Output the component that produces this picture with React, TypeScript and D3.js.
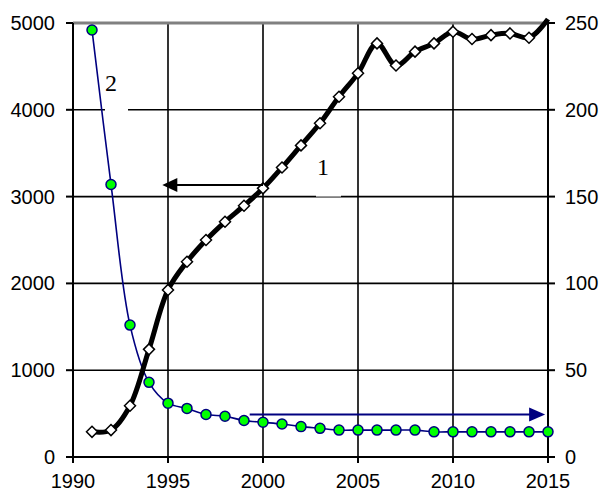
import React, { useEffect, useRef } from 'react';
import * as d3 from 'd3';

const years = [
  1991, 1992, 1993, 1994, 1995, 1996, 1997, 1998, 1999, 2000, 2001, 2002, 2003,
  2004, 2005, 2006, 2007, 2008, 2009, 2010, 2011, 2012, 2013, 2014, 2015,
];
// curve 1, left axis
const series1 = [
  290, 310, 590, 1240, 1925, 2250, 2500, 2710, 2895, 3095, 3335, 3590, 3845,
  4150, 4420, 4765, 4510, 4670, 4765, 4900, 4815, 4860, 4880, 4830, 5045,
];
// curve 2, right axis
const series2 = [
  246, 157, 76, 43, 31, 28, 24.5, 23.5, 21, 20, 19, 17.5, 16.5, 15.5, 15.5,
  15.5, 15.5, 15.5, 14.5, 14.5, 14.5, 14.5, 14.5, 14.5, 14.5,
];
const xTicks = [1990, 1995, 2000, 2005, 2010, 2015];
const leftTicks = [0, 1000, 2000, 3000, 4000, 5000];
const rightTicks = [0, 50, 100, 150, 200, 250];

const App: React.FC = () => {
  const chartRef = useRef<SVGSVGElement>(null);

  const renderChart = () => {
    const svg = d3.select(chartRef.current);
    svg.selectAll('*').remove();

    const left = 73;
    const right = 548;
    const top = 23;
    const bottom = 457;

    const x = d3.scaleLinear().domain([1990, 2015]).range([left, right]);
    const yL = d3.scaleLinear().domain([0, 5000]).range([bottom, top]);
    const yR = d3.scaleLinear().domain([0, 250]).range([bottom, top]);

    const font = "'Liberation Sans', Arial, sans-serif";
    const serif = "'Liberation Serif', 'Times New Roman', serif";

    // grid
    const grid = svg.append('g').attr('stroke', '#000').attr('stroke-width', 1.6);
    leftTicks
      .filter((d) => d > 0 && d < 5000)
      .forEach((d) => {
        grid.append('line').attr('x1', left).attr('x2', right).attr('y1', yL(d)).attr('y2', yL(d));
      });
    xTicks
      .filter((d) => d > 1990 && d < 2015)
      .forEach((d) => {
        grid.append('line').attr('x1', x(d)).attr('x2', x(d)).attr('y1', top).attr('y2', bottom);
      });

    // white boxes behind the curve labels
    svg.append('rect').attr('x', 105).attr('y', 62).attr('width', 23).attr('height', 52).attr('fill', '#fff');
    svg.append('rect').attr('x', 316).attr('y', 148).attr('width', 25).attr('height', 48.6).attr('fill', '#fff');

    // top border
    svg
      .append('line')
      .attr('x1', left)
      .attr('x2', right)
      .attr('y1', top)
      .attr('y2', top)
      .attr('stroke', '#808080')
      .attr('stroke-width', 3);

    // axes
    const axes = svg.append('g').attr('stroke', '#000').attr('stroke-width', 2);
    axes.append('line').attr('x1', left).attr('x2', left).attr('y1', top).attr('y2', bottom + 6);
    axes.append('line').attr('x1', right).attr('x2', right).attr('y1', top - 2).attr('y2', bottom + 6);
    axes.append('line').attr('x1', left - 7).attr('x2', right + 7).attr('y1', bottom).attr('y2', bottom);
    leftTicks.forEach((d) => {
      axes.append('line').attr('x1', left - 7).attr('x2', left).attr('y1', yL(d)).attr('y2', yL(d));
    });
    rightTicks.forEach((d) => {
      axes.append('line').attr('x1', right).attr('x2', right + 7).attr('y1', yR(d)).attr('y2', yR(d));
    });
    xTicks.forEach((d) => {
      axes.append('line').attr('x1', x(d)).attr('x2', x(d)).attr('y1', bottom).attr('y2', bottom + 6);
    });

    const labels = svg.append('g').attr('font-family', font).attr('font-size', 20).attr('fill', '#000');
    leftTicks.forEach((d) => {
      labels
        .append('text')
        .attr('x', 55)
        .attr('y', yL(d))
        .attr('dy', '0.35em')
        .attr('text-anchor', 'end')
        .text(d);
    });
    rightTicks.forEach((d) => {
      labels
        .append('text')
        .attr('x', right + 17)
        .attr('y', yR(d))
        .attr('dy', '0.35em')
        .attr('text-anchor', 'start')
        .text(d);
    });
    xTicks.forEach((d) => {
      labels
        .append('text')
        .attr('x', x(d))
        .attr('y', 488)
        .attr('text-anchor', 'middle')
        .text(d);
    });

    // curve 2
    const data2 = years.map((yr, i) => ({ yr, v: series2[i] }));
    const line2 = d3
      .line<{ yr: number; v: number }>()
      .curve(d3.curveCatmullRom)
      .x((d) => x(d.yr))
      .y((d) => yR(d.v));
    svg
      .append('path')
      .datum(data2)
      .attr('d', line2)
      .attr('fill', 'none')
      .attr('stroke', '#000080')
      .attr('stroke-width', 1.6);

    // curve 1
    const data1 = years.map((yr, i) => ({ yr, v: series1[i] }));
    const line1 = d3
      .line<{ yr: number; v: number }>()
      .curve(d3.curveCatmullRom)
      .x((d) => x(d.yr))
      .y((d) => yL(d.v));
    svg
      .append('path')
      .datum(data1)
      .attr('d', line1)
      .attr('fill', 'none')
      .attr('stroke', '#000')
      .attr('stroke-width', 5)
      .attr('stroke-linejoin', 'round');

    svg
      .append('g')
      .selectAll('path')
      .data(data1.filter((d) => d.yr < 2015))
      .join('path')
      .attr('transform', (d) => `translate(${x(d.yr)},${yL(d.v)})`)
      .attr('d', 'M0,-5.5L5.5,0L0,5.5L-5.5,0Z')
      .attr('fill', '#fff')
      .attr('stroke', '#000')
      .attr('stroke-width', 1.5);

    svg
      .append('g')
      .selectAll('circle')
      .data(data2)
      .join('circle')
      .attr('cx', (d) => x(d.yr))
      .attr('cy', (d) => yR(d.v))
      .attr('r', 5)
      .attr('fill', '#00ff00')
      .attr('stroke', '#000080')
      .attr('stroke-width', 1.5);

    // arrow to left axis (curve 1)
    const ay1 = yL(3135);
    const ax1 = x(2000);
    const tip1 = x(1994.7);
    svg
      .append('line')
      .attr('x1', ax1)
      .attr('x2', tip1 + 12)
      .attr('y1', ay1)
      .attr('y2', ay1)
      .attr('stroke', '#000')
      .attr('stroke-width', 2);
    svg
      .append('path')
      .attr('d', `M${tip1},${ay1}L${tip1 + 15},${ay1 - 7}L${tip1 + 15},${ay1 + 7}Z`)
      .attr('fill', '#000');

    // arrow to right axis (curve 2)
    const ay2 = yR(24.5);
    const ax2 = x(1999.3);
    const tip2 = x(2014.85);
    svg
      .append('line')
      .attr('x1', ax2)
      .attr('x2', tip2 - 14)
      .attr('y1', ay2)
      .attr('y2', ay2)
      .attr('stroke', '#000080')
      .attr('stroke-width', 2);
    svg
      .append('path')
      .attr('d', `M${tip2},${ay2}L${tip2 - 16},${ay2 - 7}L${tip2 - 16},${ay2 + 7}Z`)
      .attr('fill', '#000080');

    // curve labels
    const tl = svg.append('g').attr('font-family', serif).attr('font-size', 24).attr('fill', '#000');
    tl.append('text').attr('x', 105).attr('y', 91).text('2');
    tl.append('text').attr('x', 317).attr('y', 175).text('1');
  };

  useEffect(() => {
    renderChart();
  }, []);

  return (
    <div style={{ position: 'absolute', left: 0, top: 0 }}>
      <svg ref={chartRef} width={601} height={491} style={{ display: 'block' }}></svg>
    </div>
  );
};

export default App;
